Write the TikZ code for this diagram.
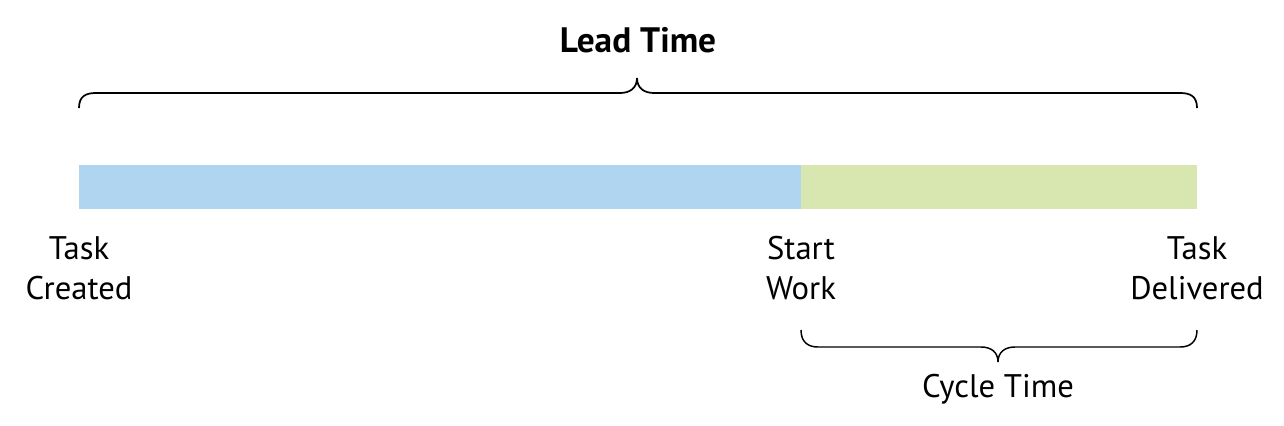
\documentclass[tikz,border=0pt]{standalone}
\usepackage{fontspec}
\setmainfont{PT Sans}
\begin{document}
\begin{tikzpicture}[x=0.75pt,y=-0.75pt,
  lbl/.style={align=center,font=\fontsize{24.5}{30}\selectfont,inner sep=0pt},
  bracestyle/.style={line width=1.3pt,black}]
\useasboundingbox (0,0) rectangle (1284,425);
\definecolor{barblue}{HTML}{AFD5F0}
\definecolor{bargreen}{HTML}{D7E7AF}
% bar
\fill[barblue] (79,165) rectangle (801,209);
\fill[bargreen] (801,165) rectangle (1197,209);
\coordinate (a) at (79,187);
\coordinate (b) at (801,187);
\coordinate (c) at (1197,187);
% labels
\node[lbl] (created) at (79,268) {Task\\Created};
\node[lbl] (start) at (801,268) {Start\\Work};
\node[lbl] (delivered) at (1197,268) {Task\\Delivered};
\node[lbl,font=\fontsize{26.5}{30}\selectfont\bfseries] (lead) at (638,40) {Lead Time};
\node[lbl] (cycle) at (998,389) {Cycle Time};
% top brace
\draw[bracestyle] (79,108) .. controls (79,96) and (86,93) .. (96,93) -- (620,93)
  .. controls (630,93) and (637,88) .. (637,78)
  .. controls (637,88) and (644,93) .. (654,93) -- (1180,93)
  .. controls (1190,93) and (1197,96) .. (1197,108);
% bottom brace
\draw[bracestyle,line width=1.1pt] (801,330) .. controls (801,342) and (808,347) .. (818,347) -- (981,347)
  .. controls (991,347) and (998,352) .. (998,362)
  .. controls (998,352) and (1005,347) .. (1015,347) -- (1180,347)
  .. controls (1190,347) and (1197,342) .. (1197,330);
\end{tikzpicture}
\end{document}
